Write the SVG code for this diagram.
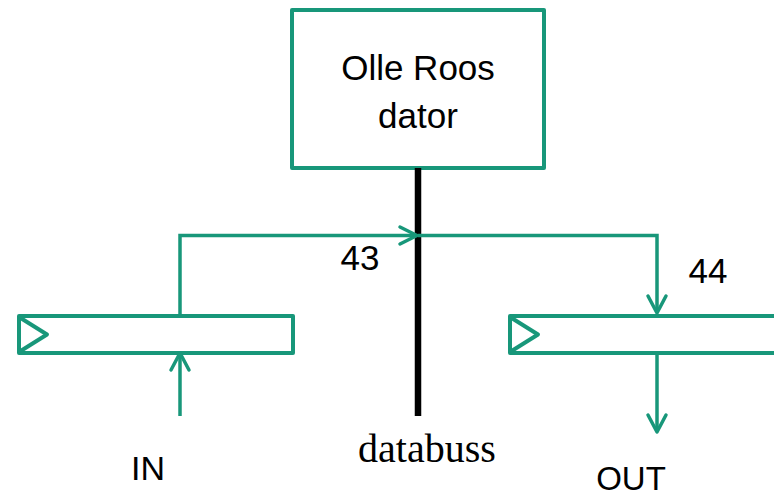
<svg xmlns="http://www.w3.org/2000/svg" width="774" height="497" viewBox="0 0 774 497">
  <style>
    .box { fill: none; stroke: #18977a; stroke-width: 4; stroke-linejoin: round; }
    .wire { fill: none; stroke: #18977a; stroke-width: 3.5; }
    .head { fill: none; stroke: #18977a; stroke-width: 3.5; stroke-linecap: round; stroke-linejoin: round; }
    .bus { stroke: #000; stroke-width: 6.5; }
    .sans { font-family: "Liberation Sans", Arial, sans-serif; fill: #000; }
    .serif { font-family: "Liberation Serif", "Times New Roman", serif; fill: #000; }
  </style>
  <rect width="774" height="497" fill="#fff"/>

  <!-- computer -->
  <g id="computer">
    <rect class="box" x="292" y="10" width="252" height="158"/>
    <text class="sans" x="418" y="80" font-size="35" text-anchor="middle">Olle Roos</text>
    <text class="sans" x="418" y="128" font-size="35" text-anchor="middle">dator</text>
  </g>

  <!-- input register (port 43) -->
  <g id="reg-in">
    <rect class="box" x="19" y="316" width="274" height="37"/>
    <polyline class="box" points="19,317 47,334.5 19,352"/>
  </g>

  <!-- output register (port 44) -->
  <g id="reg-out">
    <path class="box" d="M 780 316 H 510 V 353 H 780"/>
    <polyline class="box" points="510,317 538,334.5 510,352"/>
  </g>

  <!-- connectors -->
  <g id="connectors">
    <line class="bus" x1="418" y1="168" x2="418" y2="416"/>
    <!-- register 43 to bus -->
    <polyline class="wire" points="180,316 180,235.5 416,235.5"/>
    <polyline class="head" points="400,227 417,235.5 400,244"/>
    <!-- bus to register 44 -->
    <polyline class="wire" points="418,235.5 657,235.5 657,313"/>
    <polyline class="head" points="648,296 657,313 666,296"/>
    <!-- IN -->
    <line class="wire" x1="180" y1="416" x2="180" y2="355"/>
    <polyline class="head" points="171,370 180,353 189,370"/>
    <!-- OUT -->
    <line class="wire" x1="657" y1="353" x2="657" y2="430"/>
    <polyline class="head" points="648,415 657,432 666,415"/>
  </g>

  <!-- labels -->
  <g id="labels">
    <text class="sans" x="360" y="270" font-size="35" text-anchor="middle">43</text>
    <text class="sans" x="708" y="283" font-size="35" text-anchor="middle">44</text>
    <text class="serif" x="427" y="462" font-size="40" text-anchor="middle">databuss</text>
    <text class="sans" x="148" y="480" font-size="34" text-anchor="middle">IN</text>
    <text class="sans" x="631" y="490" font-size="33" text-anchor="middle">OUT</text>
  </g>
</svg>
